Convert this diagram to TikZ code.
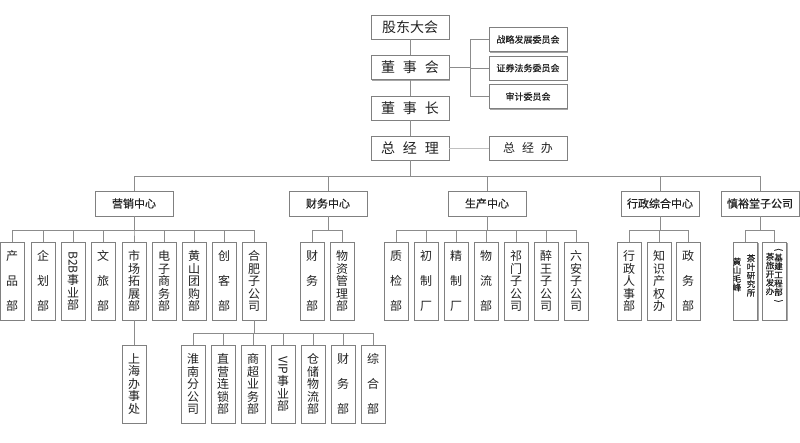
\documentclass[tikz,border=0pt]{standalone}
\usepackage{fontspec}
\usepackage{graphicx}
\newfontfamily\cjk{Noto Sans CJK SC}
\newfontfamily\cjkm[FakeBold=0.6]{Noto Sans CJK SC}
\usetikzlibrary{shadows}
\definecolor{linegray}{HTML}{8C8C8C}
\definecolor{boxgray}{HTML}{808080}
\definecolor{inkgray}{HTML}{222222}

\begin{document}
\begin{tikzpicture}[x=1pt,y=-1pt,
    box/.style={draw=boxgray,line width=0.8pt,fill=white,inner sep=0pt,text=inkgray,
      drop shadow={shadow xshift=1pt,shadow yshift=-1pt,fill=black!35,opacity=1}},
    topbox/.style={box,minimum width=78pt,minimum height=24pt,font=\cjk\fontsize{14}{14}\selectfont},
    cmbox/.style={box,minimum width=78pt,minimum height=24pt,font=\cjkm\fontsize{9}{9}\selectfont},
    midbox/.style={box,minimum width=78pt,minimum height=25pt,font=\cjkm\fontsize{11}{11}\selectfont},
    deptbox/.style={box,minimum width=24pt,minimum height=78pt,align=center},
    vtight/.style={font=\cjk\fontsize{12}{12.5}\selectfont},
    vspaced/.style={font=\cjk\fontsize{12}{25}\selectfont},
    colt/.style={inner sep=0pt,align=center,text=inkgray,font=\cjkm\fontsize{8.5}{8.6}\selectfont},
    link/.style={draw=linegray,line width=0.8pt}]
  \useasboundingbox (0,0) rectangle (800,442);
  \coordinate (cb) at (470,0);
  \coordinate (b2) at (0,176);
  \coordinate (b3) at (0,230);
  \coordinate (b4) at (0,333);

  % top of the chart
  \node[topbox] (gd) at (410,27) {股东大会};
  \node[topbox] (dsh) at (410,67.5) {董\hspace{8pt}事\hspace{8pt}会};
  \node[topbox] (dsz) at (410,108) {董\hspace{8pt}事\hspace{8pt}长};
  \node[topbox] (zjl) at (410,148) {总\hspace{8pt}经\hspace{8pt}理};
  \node[cmbox] (zl) at (528,39.5) {战略发展委员会};
  \node[cmbox] (zq) at (528,68) {证券法务委员会};
  \node[cmbox] (sj) at (528,96.5) {审计委员会};
  \node[cmbox,font=\cjk\fontsize{12}{12}\selectfont] (zjb) at (528,148) {总\hspace{7pt}经\hspace{7pt}办};
  \draw[link] (gd) -- (dsh) -- (dsz) -- (zjl);
  \draw[link] (dsh.east) -- (dsh.east -| cb);
  \draw[link] (zl.west) -- (zl.west -| cb) -- (sj.west -| cb) -- (sj.west);
  \draw[link] (zq.west) -- (zq.west -| cb);
  \draw[link,draw=linegray!55] (zjl.east) -- (zjb.west);

  % centres
  \node[midbox] (yx) at (134,203.5) {营销中心};
  \node[midbox] (cw) at (328,203.5) {财务中心};
  \node[midbox] (sc) at (487,203.5) {生产中心};
  \node[midbox] (xz) at (660,203.5) {行政综合中心};
  \node[midbox] (sy) at (760,203.5) {慎裕堂子公司};
  \foreach \n in {yx,cw,sc,xz,sy}
    \draw[link] (zjl.south) -- (zjl.south |- b2) -| (\n.north);

  % departments
  \foreach \x/\n/\s/\t in {12/cp/vspaced/{产\\品\\部}, 43/qh/vspaced/{企\\划\\部},
      73/bb/vtight/{\rotatebox[origin=c]{-90}{B2B}\\事\\业\\部}, 103/wl/vspaced/{文\\旅\\部},
      134/sctz/vtight/{市\\场\\拓\\展\\部}, 164/dz/vtight/{电\\子\\商\\务\\部},
      194/hstg/vtight/{黄\\山\\团\\购\\部}, 224/ck/vspaced/{创\\客\\部},
      254/hf/vtight/{合\\肥\\子\\公\\司}}{
    \node[deptbox,\s] (\n) at (\x,281) {\t};
    \draw[link] (yx.south) -- (yx.south |- b3) -| (\n.north);
  }
  \foreach \x/\n/\s/\t in {312/cwb/vspaced/{财\\务\\部}, 342/wzgl/vtight/{物\\资\\管\\理\\部}}{
    \node[deptbox,\s] (\n) at (\x,281) {\t};
    \draw[link] (cw.south) -- (cw.south |- b3) -| (\n.north);
  }
  \foreach \x/\n/\s/\t in {396/zj/vspaced/{质\\检\\部}, 426/cz/vspaced/{初\\制\\厂},
      456/jz/vspaced/{精\\制\\厂}, 486/wlb/vspaced/{物\\流\\部},
      516/qm/vtight/{祁\\门\\子\\公\\司}, 546/zw/vtight/{醉\\王\\子\\公\\司},
      576/la/vtight/{六\\安\\子\\公\\司}}{
    \node[deptbox,\s] (\n) at (\x,281) {\t};
    \draw[link] (sc.south) -- (sc.south |- b3) -| (\n.north);
  }
  \foreach \x/\n/\s/\t in {629/xzrs/vtight/{行\\政\\人\\事\\部}, 659/zscq/vtight/{知\\识\\产\\权\\办},
      688/zwb/vspaced/{政\\务\\部}}{
    \node[deptbox,\s] (\n) at (\x,281) {\t};
    \draw[link] (xz.south) -- (xz.south |- b3) -| (\n.north);
  }
  \node[deptbox] (hs) at (745.5,281) {};
  \node[colt] (hsa) at ([xshift=-8.5pt,yshift=6.5pt]hs.center) {黄\\山\\毛\\峰};
  \node[colt] (hsb) at ([xshift=5.5pt,yshift=5.5pt]hs.center) {茶\\叶\\研\\究\\所};
  \node[deptbox] (cl) at (774.5,281) {};
  \node[colt] (cla) at ([xshift=-4.5pt,yshift=7pt]cl.center) {茶\\旅\\开\\发\\办};
  \node[colt] (clb) at ([xshift=4pt,yshift=5pt]cl.center)
    {\rotatebox[origin=c]{-90}{(}\\基\\建\\工\\程\\部\\\rotatebox[origin=c]{-90}{)}};
  \foreach \n in {hs,cl}
    \draw[link] (sy.south) -- (sy.south |- b3) -| (\n.north);

  % below the departments
  \node[deptbox,vtight] (sh) at (134,384) {上\\海\\办\\事\\处};
  \draw[link] (sctz) -- (sh);
  \foreach \x/\n/\s/\t in {193/hn/vtight/{淮\\南\\分\\公\\司}, 223/zy/vtight/{直\\营\\连\\锁\\部},
      253/scyw/vtight/{商\\超\\业\\务\\部}, 283/vip/vtight/{\rotatebox[origin=c]{-90}{VIP}\\事\\业\\部},
      313/cc/vtight/{仓\\储\\物\\流\\部}, 343/cwb2/vspaced/{财\\务\\部},
      373/zh/vspaced/{综\\合\\部}}{
    \node[deptbox,\s] (\n) at (\x,384) {\t};
    \draw[link] (hf.south) -- (hf.south |- b4) -| (\n.north);
  }
\end{tikzpicture}
\end{document}
